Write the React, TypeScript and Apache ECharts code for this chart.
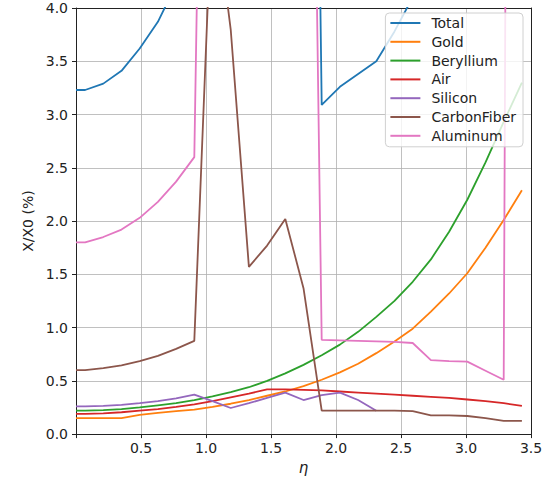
import React, { useEffect, useRef } from "react";
import * as echarts from "echarts";

const FONT = "DejaVu Sans";

const eta = [0, 0.07, 0.21, 0.35, 0.49, 0.63, 0.77, 0.91, 1.05, 1.19, 1.33, 1.47, 1.61, 1.75, 1.89, 2.03, 2.17, 2.31, 2.45, 2.59, 2.73, 2.87, 3.01, 3.15, 3.29, 3.43];

const total = [3.23, 3.23, 3.29, 3.41, 3.62, 3.87, 4.22, 4.6, 20, 19, 17, 17, 17, 16, 3.09, 3.26, 3.38, 3.5, 3.78, 4.1, 4.4, 4.6, 5.0, 5.5, 6.0, 45];
const gold = [0.15, 0.15, 0.15, 0.15, 0.18, 0.2, 0.215, 0.23, 0.255, 0.285, 0.32, 0.36, 0.4, 0.45, 0.51, 0.58, 0.66, 0.76, 0.87, 0.99, 1.15, 1.32, 1.51, 1.75, 2.01, 2.29];
const beryllium = [0.22, 0.22, 0.225, 0.235, 0.25, 0.27, 0.29, 0.32, 0.355, 0.395, 0.44, 0.5, 0.57, 0.65, 0.74, 0.84, 0.96, 1.1, 1.25, 1.43, 1.64, 1.9, 2.2, 2.55, 2.93, 3.3];
const air = [0.19, 0.19, 0.195, 0.205, 0.22, 0.235, 0.255, 0.28, 0.31, 0.345, 0.38, 0.42, 0.42, 0.415, 0.41, 0.4, 0.39, 0.38, 0.37, 0.36, 0.35, 0.34, 0.325, 0.31, 0.29, 0.265];
const silicon = [0.26, 0.26, 0.265, 0.275, 0.29, 0.31, 0.335, 0.37, 0.31, 0.245, 0.29, 0.34, 0.39, 0.32, 0.365, 0.39, 0.32, 0.22, null, null, null, null, null, null, null, null];
const carbonFiber = [0.6, 0.6, 0.62, 0.645, 0.685, 0.735, 0.8, 0.875, 5.15, 3.8, 1.57, 1.77, 2.02, 1.37, 0.22, 0.22, 0.22, 0.22, 0.22, 0.215, 0.175, 0.175, 0.17, 0.15, 0.125, 0.125];
const aluminum = [1.8, 1.8, 1.85, 1.92, 2.03, 2.18, 2.37, 2.6, 13, 14, 14, 14, 14, 13, 0.885, 0.88, 0.875, 0.87, 0.865, 0.855, 0.695, 0.685, 0.68, 0.595, 0.51, 40];

const seriesNames = ["Total", "Gold", "Beryllium", "Air", "Silicon", "CarbonFiber", "Aluminum"];
const seriesValues = [total, gold, beryllium, air, silicon, carbonFiber, aluminum];
const colors = ["#1f77b4", "#ff7f0e", "#2ca02c", "#d62728", "#9467bd", "#8c564b", "#e377c2"];

const X_MIN = 0;
const X_MAX = 3.5;
const Y_MIN = 0;
const Y_MAX = 4;
const TICK_STEP = 0.5;

export default function App() {
  const ref = useRef<HTMLDivElement>(null);
  useEffect(() => {
    if (!ref.current) return;
    const chart = echarts.init(ref.current, undefined, { renderer: "svg" });
    const axisColor = "#222";
    const gridLine = { show: true, lineStyle: { color: "#b0b0b0", width: 0.8 } };
    const labelStyle = { fontSize: 14, color: axisColor, fontFamily: FONT };
    chart.setOption({
      animation: false,
      backgroundColor: "#ffffff",
      grid: { left: 76, right: 19, top: 8, bottom: 42, containLabel: false },
      legend: {
        orient: "vertical",
        right: 27,
        top: 13,
        icon: "rect",
        itemWidth: 30,
        itemHeight: 2,
        itemGap: 4.8,
        padding: [3, 7, 4, 5],
        backgroundColor: "rgba(255,255,255,0.8)",
        borderColor: "#d0d0d0",
        borderWidth: 1,
        borderRadius: 4,
        textStyle: { fontSize: 14, color: axisColor, fontFamily: FONT, padding: [0, 0, 0, 6], lineHeight: 14 },
        data: seriesNames,
      },
      xAxis: [
        {
          type: "value",
          min: X_MIN,
          max: X_MAX,
          interval: TICK_STEP,
          name: "η",
          nameLocation: "middle",
          nameGap: 22,
          nameTextStyle: { fontStyle: "italic", fontSize: 15, color: axisColor, fontFamily: FONT },
          axisLine: { show: true, onZero: false, lineStyle: { color: axisColor, width: 1 } },
          axisTick: { show: true, length: 4, lineStyle: { color: axisColor } },
          axisLabel: { ...labelStyle, margin: 7, formatter: (v: number) => (v === 0 ? "" : v.toFixed(1)) },
          splitLine: gridLine,
        },
        {
          type: "value",
          position: "top",
          min: X_MIN,
          max: X_MAX,
          interval: TICK_STEP,
          axisLine: { show: true, onZero: false, lineStyle: { color: axisColor, width: 1 } },
          axisTick: { show: false },
          axisLabel: { show: false },
          splitLine: { show: false },
        },
      ],
      yAxis: [
        {
          type: "value",
          min: Y_MIN,
          max: Y_MAX,
          interval: TICK_STEP,
          name: "X/X0 (%)",
          nameLocation: "middle",
          nameGap: 40,
          nameTextStyle: { fontSize: 14, color: axisColor, fontFamily: FONT },
          axisLine: { show: true, onZero: false, lineStyle: { color: axisColor, width: 1 } },
          axisTick: { show: true, length: 4, lineStyle: { color: axisColor } },
          axisLabel: { ...labelStyle, margin: 8, formatter: (v: number) => v.toFixed(1) },
          splitLine: gridLine,
        },
        {
          type: "value",
          position: "right",
          min: Y_MIN,
          max: Y_MAX,
          interval: TICK_STEP,
          axisLine: { show: true, onZero: false, lineStyle: { color: axisColor, width: 1 } },
          axisTick: { show: false },
          axisLabel: { show: false },
          splitLine: { show: false },
        },
      ],
      series: seriesNames.map((name, i) => ({
        type: "line",
        name,
        xAxisIndex: 0,
        yAxisIndex: 0,
        symbol: "none",
        showSymbol: false,
        clip: true,
        connectNulls: false,
        color: colors[i],
        lineStyle: { width: 1.8, color: colors[i] },
        itemStyle: { color: colors[i] },
        data: eta.map((x, k) => [x, seriesValues[i][k]]),
      })),
    });
    return () => chart.dispose();
  }, []);
  return <div ref={ref} style={{ position: "fixed", left: 0, top: 0, width: 550, height: 480 }} />;
}
